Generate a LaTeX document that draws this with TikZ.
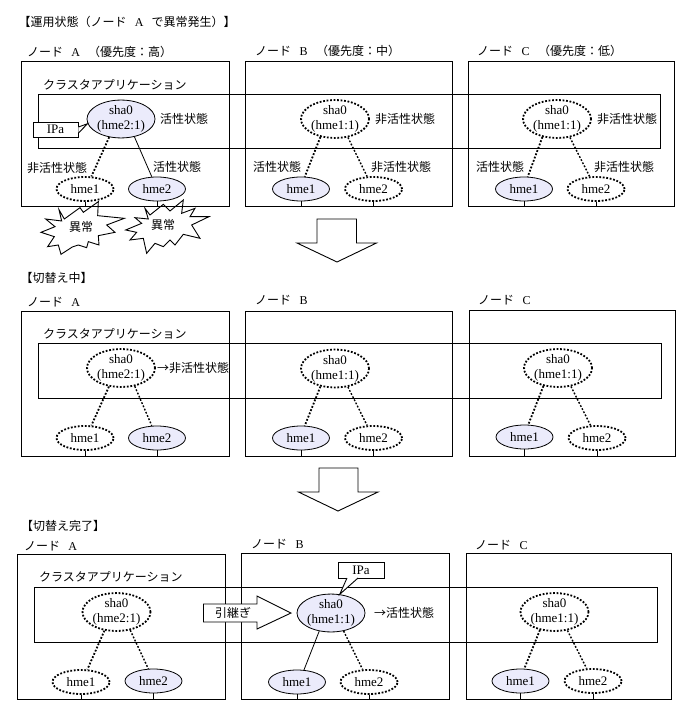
\documentclass[tikz,border=0pt]{standalone}
\usepackage{fontspec}
\setmainfont{Noto Sans CJK JP}
\newfontfamily\lat{Liberation Serif}
\usetikzlibrary{shapes.geometric,fit}
\definecolor{act}{HTML}{EBEBFB}
\tikzset{
  lbl/.style={anchor=west,inner sep=0pt,font=\fontsize{12}{14}\selectfont},
  elab/.style={font=\lat\fontsize{13}{15}\selectfont,align=center,inner sep=0pt},
  sharef/.style={ellipse,elab,inner sep=0pt,minimum width=68pt,minimum height=34pt},
  hmeref/.style={ellipse,elab,inner sep=0pt,minimum width=57pt,minimum height=24pt},
  on/.style={draw=black,line width=.8pt,fill=act},
  off/.style={draw=black,line width=1.8pt,dash pattern=on 1.8pt off 1.7pt,fill=white},
  solidc/.style={draw=black,line width=.8pt},
  dotc/.style={draw=black,line width=1.8pt,dash pattern=on 1.8pt off 1.7pt},
  dotd/.style={draw=black,line width=1.4pt,dash pattern=on 1.8pt off 1.7pt},
  frame/.style={draw=black,line width=1pt,inner sep=0pt,fit={#1}},
  tick/.style={draw=black,line width=1pt},
  outl/.style={draw=black,line width=.9pt,fill=white,line join=miter},
  tagbox/.style={draw=black,line width=.9pt,fill=white,inner sep=0pt,font=\lat\fontsize{13}{13.5}\selectfont}
}
\newcommand{\boxn}[5]{\coordinate (#1a) at (#2,#3);\coordinate (#1b) at (#4,#5);\node[frame={(#1a)(#1b)}] (#1) {};}
\newcommand{\shan}[5]{\node[sharef,#5] (#1) at (#2,#3) {sha0\\(#4)};}
\newcommand{\hmen}[5]{\node[hmeref,#5] (#1) at (#2,#3) {#4};}
\newcommand{\tickn}[2]{\draw[tick] (#1.south) -- (#1.south |- #2.south);}
\newcommand{\ltr}[1]{\makebox[25pt]{\lat #1}}
\begin{document}
\begin{tikzpicture}[x=1pt,y=-1pt]
\useasboundingbox (0,0) rectangle (679,708);
% titles
\node[lbl] (t1) at (18.5,22) {【運用状態（ノード\ltr{A}で異常発生）】};
\node[lbl] (t2) at (20.5,278) {【切替え中】};
\node[lbl] (t3) at (21,526) {【切替え完了】};
% row 1
\boxn{a1}{21.5}{61.5}{229.5}{207}
\boxn{b1}{245.5}{61.5}{452}{207}
\boxn{c1}{468.5}{61.5}{674.5}{207}
\boxn{p1}{38.5}{94.5}{660.5}{149}
\node[lbl] (na1) at (27,52) {ノード\ltr{A}（優先度：高）};
\node[lbl] (nb1) at (255,51) {ノード\ltr{B}（優先度：中）};
\node[lbl] (nc1) at (477,51) {ノード\ltr{C}（優先度：低）};
\node[lbl] (ap1) at (43,85) {クラスタアプリケーション};
\shan{sa1}{121}{119}{hme2:1}{on}
\hmen{la1}{85}{189}{hme1}{off}
\hmen{ra1}{157}{189}{hme2}{on}
\shan{sb1}{335}{119}{hme1:1}{off}
\hmen{lb1}{301}{189}{hme1}{on}
\hmen{rb1}{373.5}{189}{hme2}{off}
\shan{sc1}{557}{119}{hme1:1}{off}
\hmen{lc1}{524}{189}{hme1}{on}
\hmen{rc1}{596}{189}{hme2}{off}
\draw[dotc] (sa1.-123) -- (la1.63);
\draw[solidc] (sa1.-53) -- (ra1.113);
\draw[dotc] (sb1.-129) -- (lb1.73);
\draw[dotd] (sb1.-55) -- (rb1.117);
\draw[dotc] (sc1.-129) -- (lc1.73);
\draw[dotd] (sc1.-55) -- (rc1.117);
\tickn{la1}{a1}\tickn{ra1}{a1}\tickn{lb1}{b1}\tickn{rb1}{b1}\tickn{lc1}{c1}\tickn{rc1}{c1}
\node[lbl] (x1) at (160,119) {活性状態};
\node[lbl] (x2) at (27,168) {非活性状態};
\node[lbl] (x3) at (153,167) {活性状態};
\node[lbl] (x4) at (375,119) {非活性状態};
\node[lbl] (x5) at (253,167) {活性状態};
\node[lbl] (x6) at (371,167) {非活性状態};
\node[lbl] (x7) at (597,119) {非活性状態};
\node[lbl] (x8) at (476,167) {活性状態};
\node[lbl] (x9) at (594,167) {非活性状態};
% IPa callout, row 1
\node[tagbox,minimum width=45pt,minimum height=15pt] (ip1) at (55.5,129.5) {IPa};
\draw[outl] (ip1.east |- 0,127) -- (sa1.188) -- (ip1.east |- 0,133);
% bursts
\begin{scope}[shift={(35,195)},x=.3333pt,y=-.3333pt]
\draw[line width=.9pt,line join=miter] (72,44) -- (88,72) -- (135,38) -- (145,52) -- (190,20) -- (188,62) -- (268,70) -- (215,90) -- (240,112) -- (190,122) -- (192,150) -- (160,140) -- (155,158) -- (130,150) -- (112,156) -- (78,178) -- (70,150) -- (38,155) -- (58,125) -- (18,112) -- (60,95) -- (32,72) -- (80,78) -- cycle;
\draw[line width=.9pt,line join=miter] (330,40) -- (345,60) -- (385,28) -- (405,48) -- (445,15) -- (440,55) -- (480,40) -- (465,65) -- (522,65) -- (470,90) -- (495,130) -- (445,118) -- (420,150) -- (405,135) -- (385,155) -- (360,145) -- (335,175) -- (325,130) -- (285,135) -- (305,112) -- (272,105) -- (320,85) -- (300,68) -- (340,72) -- cycle;
\end{scope}
\node[lbl] (e1) at (69,227) {異常};
\node[lbl] (e2) at (151,225) {異常};
% arrow 1
\draw[outl] (317,219) -- (317,243) -- (297,243) -- (337,262) -- (376.5,243) -- (356.5,243) -- (356.5,219) -- cycle;
% row 2
\boxn{a2}{21.5}{311.5}{229.5}{456}
\boxn{b2}{245.5}{311}{452}{456}
\boxn{c2}{469.5}{310.5}{675}{456}
\boxn{p2}{38.5}{343.5}{661}{398}
\node[lbl] (na2) at (27,302) {ノード\ltr{A}};
\node[lbl] (nb2) at (255,300) {ノード\ltr{B}};
\node[lbl] (nc2) at (478,300) {ノード\ltr{C}};
\node[lbl] (ap2) at (43,334) {クラスタアプリケーション};
\shan{sa2}{121}{368}{hme2:1}{off}
\hmen{la2}{85}{438}{hme1}{off}
\hmen{ra2}{157}{438}{hme2}{on}
\shan{sb2}{335}{368.5}{hme1:1}{off}
\hmen{lb2}{301}{438}{hme1}{on}
\hmen{rb2}{373.5}{438}{hme2}{off}
\shan{sc2}{558}{368}{hme1:1}{off}
\hmen{lc2}{524.5}{437}{hme1}{on}
\hmen{rc2}{597}{438}{hme2}{off}
\draw[dotc] (sa2.-123) -- (la2.63);
\draw[dotd] (sa2.-53) -- (ra2.113);
\draw[dotc] (sb2.-129) -- (lb2.73);
\draw[dotd] (sb2.-55) -- (rb2.117);
\draw[dotc] (sc2.-129) -- (lc2.73);
\draw[dotd] (sc2.-55) -- (rc2.117);
\tickn{la2}{a2}\tickn{ra2}{a2}\tickn{lb2}{b2}\tickn{rb2}{b2}\tickn{lc2}{c2}\tickn{rc2}{c2}
\node[lbl] (y1) at (157,368) {→非活性状態};
% arrow 2
\draw[outl] (319,468) -- (319,492) -- (298.5,492) -- (338,511) -- (378,492) -- (358,492) -- (358,468) -- cycle;
% row 3
\boxn{a3}{17.5}{554}{225.5}{699}
\boxn{b3}{241.5}{553.5}{449}{699}
\boxn{c3}{466}{553.5}{671.5}{699}
\boxn{p3}{34.5}{587.5}{657.5}{642}
\node[lbl] (na3) at (24,546) {ノード\ltr{A}};
\node[lbl] (nb3) at (251,544) {ノード\ltr{B}};
\node[lbl] (nc3) at (475,545) {ノード\ltr{C}};
\node[lbl] (ap3) at (39,577) {クラスタアプリケーション};
\shan{sa3}{116.5}{612}{hme2:1}{off}
\hmen{la3}{81}{682}{hme1}{off}
\hmen{ra3}{153.5}{681}{hme2}{on}
\shan{sb3}{331}{613}{hme1:1}{on}
\hmen{lb3}{297}{682}{hme1}{on}
\hmen{rb3}{369}{682}{hme2}{off}
\shan{sc3}{554.5}{612}{hme1:1}{off}
\hmen{lc3}{520.5}{681}{hme1}{on}
\hmen{rc3}{593}{681}{hme2}{off}
\draw[dotc] (sa3.-123) -- (la3.63);
\draw[dotd] (sa3.-53) -- (ra3.113);
\draw[solidc] (sb3.-123) -- (lb3.60);
\draw[dotd] (sb3.-55) -- (rb3.117);
\draw[dotc] (sc3.-129) -- (lc3.73);
\draw[dotd] (sc3.-55) -- (rc3.117);
\tickn{la3}{a3}\tickn{ra3}{a3}\tickn{lb3}{b3}\tickn{rb3}{b3}\tickn{lc3}{c3}\tickn{rc3}{c3}
\node[lbl] (z1) at (374,613) {→活性状態};
% hand-over arrow
\draw[outl] (203.5,604) -- (257,604) -- (257,596) -- (291,613) -- (257,629) -- (257,622) -- (203.5,622) -- cycle;
\node[lbl] (hw) at (215,613) {引継ぎ};
% IPa callout, row 3
\node[tagbox,minimum width=46pt,minimum height=16pt] (ip3) at (361,570) {IPa};
\draw[outl] (347,578) -- (sb3.65) -- (358,578);
\end{tikzpicture}
\end{document}
